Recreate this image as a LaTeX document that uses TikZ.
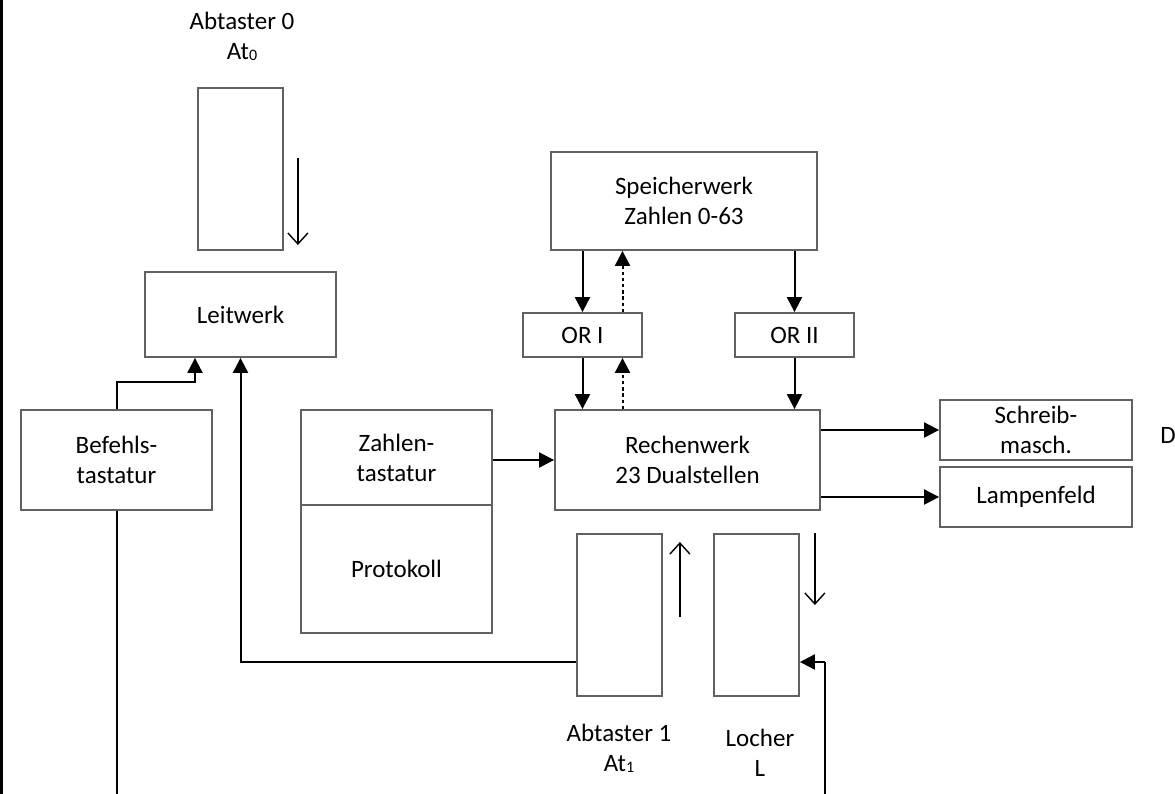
\documentclass[tikz,border=0pt]{standalone}
\usepackage{fontspec}
\setmainfont{Carlito}
\usetikzlibrary{arrows.meta}
\newcommand{\tapeidx}[1]{\raisebox{-0.6pt}{\fontsize{8}{8}\selectfont #1}}

\begin{document}
\begin{tikzpicture}[x=0.5pt, y=-0.5pt,
  every node/.style={font=\fontsize{12.5}{15}\selectfont, align=center, inner sep=0pt},
  werk/.style args={#1/#2}{draw=black!62, line width=0.9pt, minimum width=#1, minimum height=#2},
  conn/.style={-{Triangle[length=7.5pt,width=7.5pt]}, line width=1pt},
  dotconn/.style={conn, dash pattern=on 1.7pt off 1.4pt},
  feed/.style={-{Straight Barb[length=5.5pt,width=10pt]}, line width=0.7pt}]
  \useasboundingbox (0,0) rectangle (1175,794);
  \draw[line width=1.5pt] (1.5,0) -- (1.5,794);
  \coordinate (bot) at (0,794);

  % tapes, keyboards and units
  \node[werk=42.5pt/81pt]  (at0)      at (240.5,169) {};
  \node                    (at0lab)   at (242,36)    {Abtaster 0\\At\tapeidx{0}};
  \node[werk=95.5pt/42.5pt] (leit)    at (240.5,314.5) {Leitwerk};
  \node[werk=95.5pt/50pt]  (befehl)   at (116.5,460) {Befehls-\\tastatur};
  \node[werk=95.5pt/47.5pt] (zahlen)  at (396.5,457.5) {Zahlen-\\tastatur};
  \node[werk=95.5pt/64pt]  (proto)    at (396.5,569) {Protokoll};
  \node[werk=133pt/49pt]   (speicher) at (684,201)   {Speicherwerk\\Zahlen 0-63};
  \node[werk=59.5pt/22pt]  (or1)      at (582.5,335) {OR I};
  \node[werk=59.5pt/22pt]  (or2)      at (794.5,335) {OR II};
  \node[werk=132.5pt/50pt] (rechen)   at (687.5,460) {Rechenwerk\\23 Dualstellen};
  \node[werk=96pt/30pt]    (schreib)  at (1036,430)  {Schreib-\\masch.};
  \node[werk=96pt/30pt]    (lampe)    at (1036,497)  {Lampenfeld};
  \node                    (d)        at (1168,435)  {D};
  \node[werk=42.5pt/81pt]  (at1)      at (619.5,615) {};
  \node                    (at1lab)   at (619,748)   {Abtaster 1\\At\tapeidx{1}};
  \node[werk=42.5pt/81pt]  (locher)   at (756.5,615) {};
  \node                    (locherlab) at (760,753)  {Locher\\L};

  % data paths
  \draw[conn] (speicher.south -| or1) -- (or1.north);
  \draw[dotconn] ([xshift=20pt]or1.north) -- ([xshift=20pt]or1.north |- speicher.south);
  \draw[conn] (or1.south) -- (or1.south |- rechen.north);
  \draw[dotconn] ([xshift=20pt]or1.south |- rechen.north) -- ([xshift=20pt]or1.south);
  \draw[conn] (speicher.south -| or2) -- (or2.north);
  \draw[conn] (or2.south) -- (or2.south |- rechen.north);
  \draw[conn] (zahlen.east |- rechen) -- (rechen.west);
  \draw[conn] (rechen.east |- schreib) -- (schreib.west);
  \draw[conn] (rechen.east |- lampe) -- (lampe.west);

  % control paths
  \draw[conn] (befehl.north) -- ++(0,-27) -| ([xshift=-22.75pt]leit.south);
  \draw[conn] ([yshift=-23.5pt]at1.west) -| (leit.south);
  \draw[line width=1pt] (befehl.south) -- (befehl.south |- bot);
  \draw[conn] ([yshift=-23.5pt]locher.east -| 825,0) |- ([yshift=-23.5pt]locher.east);
  \draw[line width=1pt] ([yshift=-23.5pt]locher.east -| 825,0) -- (825,794);

  % tape motion
  \draw[feed] ([xshift=7pt,yshift=5.5pt]at0.east) -- ([xshift=7pt,yshift=-38pt]at0.east);
  \draw[feed] ([xshift=8.5pt,yshift=-1pt]at1.east) -- ([xshift=8.5pt,yshift=36.5pt]at1.east);
  \draw[feed] ([xshift=7.5pt,yshift=41pt]locher.east) -- ([xshift=7.5pt,yshift=5pt]locher.east);
\end{tikzpicture}
\end{document}
